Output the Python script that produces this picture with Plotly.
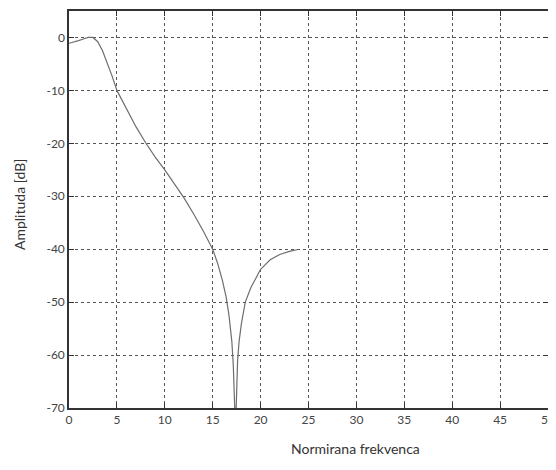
import plotly.graph_objects as go

freq = [0, 0.5, 1, 1.5, 2, 2.5, 3, 3.5, 4, 4.5, 5, 6, 7, 8, 9, 10, 11, 12, 13, 14, 15,
        15.5, 16, 16.4, 16.7, 17.0, 17.15, 17.25, 17.3, 17.45, 17.5, 17.6, 17.75, 18.0,
        18.4, 19, 20, 21, 22, 23, 23.8]
amp_db = [-1.1, -0.9, -0.6, -0.3, 0.0, 0.0, -0.8, -2.5, -4.8, -7.3, -10.0, -13.6, -16.9,
          -19.9, -22.6, -25.0, -27.6, -30.3, -33.3, -36.5, -40.0,
          -42.6, -45.8, -49.0, -52.5, -57.5, -62.0, -66.5, -70.0, -70.0, -66.0, -61.0,
          -57.5, -54.0, -50.0, -47.2, -43.8, -42.0, -41.0, -40.4, -40.1]

x_ticks = [0, 5, 10, 15, 20, 25, 30, 35, 40, 45, 50]
y_ticks = [-70, -60, -50, -40, -30, -20, -10, 0]

fig = go.Figure()
fig.add_trace(go.Scatter(x=freq, y=amp_db, mode="lines",
                         line=dict(color="#6e6e6e", width=1.2),
                         showlegend=False, hoverinfo="skip"))

axis_font = dict(family="Lato, DejaVu Sans, sans-serif", size=12, color="#444444")
common = dict(showline=True, linecolor="#333333", linewidth=1.5, mirror="ticks",
              ticks="inside", ticklen=5, tickcolor="#333333",
              showgrid=True, gridcolor="#555555", griddash="dot", gridwidth=1,
              zeroline=False, tickfont=axis_font, ticklabeloverflow="allow")

fig.update_xaxes(range=[0, 50], tickvals=x_ticks, ticktext=[str(v) for v in x_ticks], **common)
fig.update_yaxes(range=[-70, 5], tickvals=y_ticks, ticktext=[str(v) for v in y_ticks], **common)

L, R, T, B = 61, 16, 3, 70
pw = 556 - L - R
ph = 470 - T - B

fig.update_layout(
    width=556, height=470,
    margin=dict(l=L, r=R, t=T, b=B, autoexpand=False),
    paper_bgcolor="white", plot_bgcolor="white",
    annotations=[
        dict(text="Normirana frekvenca", xref="paper", yref="paper",
             x=(347 - L) / pw, y=-(441 - (470 - B)) / ph, xanchor="center", yanchor="middle",
             showarrow=False, font=dict(family="Lato, DejaVu Sans, sans-serif", size=14, color="#333333")),
        dict(text="Amplituda [dB]", xref="paper", yref="paper", textangle=-90,
             x=-(L - 11) / pw, y=((470 - B) - 197) / ph, xanchor="center", yanchor="middle",
             showarrow=False, font=dict(family="Lato, DejaVu Sans, sans-serif", size=14, color="#333333")),
    ],
)

fig.write_html("out.html")
